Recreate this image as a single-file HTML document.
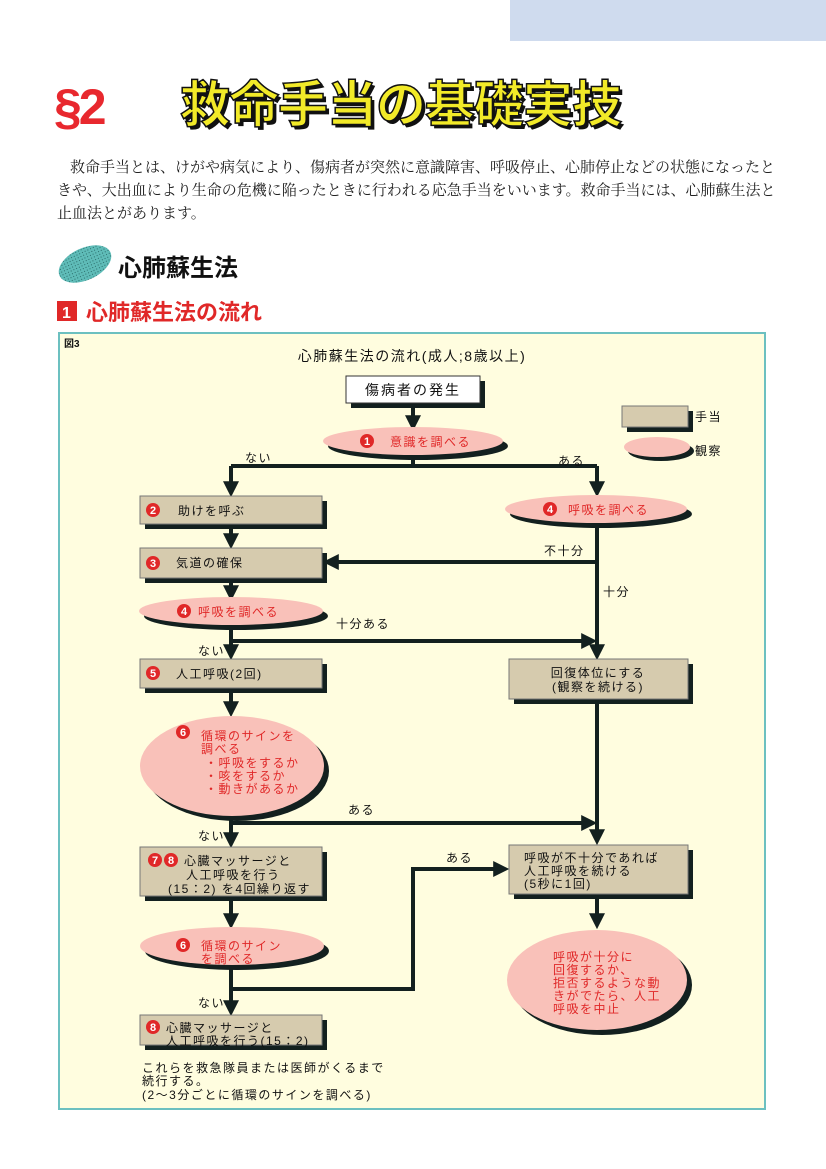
<!DOCTYPE html>
<html><head><meta charset="utf-8"><style>
html,body{margin:0;padding:0;background:#fff;}
svg{display:block;}
text{font-family:"Liberation Sans","Noto Sans CJK JP",sans-serif;}
.t{font-size:12px;fill:#111;letter-spacing:1.5px;}
.r{font-size:12px;fill:#e02828;letter-spacing:1.5px;}
.n{font-size:11px;fill:#fff;font-weight:bold;}
</style></head><body>
<svg width="826" height="1169" viewBox="0 0 826 1169" xmlns="http://www.w3.org/2000/svg">
<defs>
<marker id="a" markerWidth="4" markerHeight="4" refX="2.2" refY="2" orient="auto" markerUnits="strokeWidth"><path d="M0,0 L4,2 L0,4 z" fill="#13201f"/></marker>
<pattern id="dots" width="3" height="3" patternUnits="userSpaceOnUse"><rect width="3" height="3" fill="#5fbcb8"/><rect width="1" height="1" fill="#2a6c6a"/></pattern>
</defs>
<rect x="510" y="0" width="316" height="41" fill="#cfdbee"/>
<text x="54" y="124" font-size="50" font-weight="bold" fill="#e8282e" letter-spacing="-3">§2</text>
<text x="183" y="125" font-size="50" font-weight="bold" fill="#111" letter-spacing="-1">救命手当の基礎実技</text>
<text x="180" y="122" font-size="50" font-weight="bold" fill="#f2ea28" stroke="#111" stroke-width="1.5" letter-spacing="-1">救命手当の基礎実技</text>
<g font-size="15" fill="#222">
<text x="70" y="172" style="font-family:'Liberation Serif','Noto Serif CJK SC',serif">救命手当とは、けがや病気により、傷病者が突然に意識障害、呼吸停止、心肺停止などの状態になったと</text>
<text x="57" y="195" style="font-family:'Liberation Serif','Noto Serif CJK SC',serif">きや、大出血により生命の危機に陥ったときに行われる応急手当をいいます。救命手当には、心肺蘇生法と</text>
<text x="57" y="218" style="font-family:'Liberation Serif','Noto Serif CJK SC',serif">止血法とがあります。</text>
</g>
<ellipse cx="85" cy="264" rx="28" ry="16" transform="rotate(-25 85 264)" fill="url(#dots)"/>
<text x="118" y="276" font-size="24" font-weight="bold" fill="#111">心肺蘇生法</text>
<rect x="57" y="301" width="20" height="20" fill="#e02828"/>
<text x="62" y="318" font-size="16" font-weight="bold" fill="#fff">1</text>
<text x="86" y="320" font-size="22" fill="#e02828" font-weight="bold">心肺蘇生法の流れ</text>
<rect x="59" y="333" width="706" height="776" fill="#fffddf" stroke="#6cc0c0" stroke-width="2"/>
<text x="64" y="347" font-size="10" font-weight="bold" fill="#111">図3</text>
<text x="412" y="361" text-anchor="middle" font-size="14" fill="#111" letter-spacing="1.5">心肺蘇生法の流れ(成人;8歳以上)</text>

<g stroke="#13201f" stroke-width="4" fill="none">
<path d="M413 404 V424" marker-end="url(#a)"/>
<path d="M413 455 V466 M231 466 H597"/>
<path d="M231 466 V490" marker-end="url(#a)"/>
<path d="M597 466 V490" marker-end="url(#a)"/>
<path d="M231 525 V542" marker-end="url(#a)"/>
<path d="M597 522 V645"/>
<path d="M597 562 H330" marker-end="url(#a)"/>
<path d="M231 578 V594" marker-end="url(#a)"/>
<path d="M231 626 V653" marker-end="url(#a)"/>
<path d="M231 641 H590" marker-end="url(#a)"/>
<path d="M597 640 V653" marker-end="url(#a)"/>
<path d="M231 689 V710" marker-end="url(#a)"/>
<path d="M597 699 V838" marker-end="url(#a)"/>
<path d="M231 818 V841" marker-end="url(#a)"/>
<path d="M231 823 H590" marker-end="url(#a)"/>
<path d="M231 896 V922" marker-end="url(#a)"/>
<path d="M231 964 V1009" marker-end="url(#a)"/>
<path d="M231 989 H413 V869 H502" marker-end="url(#a)"/>
<path d="M597 894 V922" marker-end="url(#a)"/>
</g>

<g>
<rect x="351" y="381" width="134" height="27" fill="#13201f"/>
<rect x="346" y="376" width="134" height="27" fill="#fff" stroke="#333"/>
<text x="413" y="395" text-anchor="middle" font-size="14" fill="#111" letter-spacing="2">傷病者の発生</text>
</g>
<g fill="#13201f">
<rect x="627" y="411" width="66" height="21"/>
<rect x="145" y="501" width="182" height="28"/>
<rect x="145" y="553" width="182" height="30"/>
<rect x="145" y="664" width="182" height="29"/>
<rect x="145" y="852" width="182" height="49"/>
<rect x="145" y="1020" width="182" height="30"/>
<rect x="514" y="664" width="179" height="40"/>
<rect x="514" y="850" width="179" height="49"/>
<ellipse cx="661" cy="451" rx="33" ry="10"/>
<ellipse cx="418" cy="446" rx="90" ry="14"/>
<ellipse cx="601" cy="514" rx="91" ry="14"/>
<ellipse cx="236" cy="616" rx="92" ry="14"/>
<ellipse cx="237" cy="771" rx="92" ry="50"/>
<ellipse cx="237" cy="951" rx="92" ry="19"/>
<ellipse cx="602" cy="985" rx="90" ry="50"/>
</g>
<g fill="#d6cbae" stroke="#777" stroke-width="1">
<rect x="622" y="406" width="66" height="21"/>
<rect x="140" y="496" width="182" height="28"/>
<rect x="140" y="548" width="182" height="30"/>
<rect x="140" y="659" width="182" height="29"/>
<rect x="140" y="847" width="182" height="49"/>
<rect x="140" y="1015" width="182" height="30"/>
<rect x="509" y="659" width="179" height="40"/>
<rect x="509" y="845" width="179" height="49"/>
</g>
<g fill="#f9c1b9">
<ellipse cx="657" cy="447" rx="33" ry="10"/>
<ellipse cx="413" cy="441" rx="90" ry="14"/>
<ellipse cx="596" cy="509" rx="91" ry="14"/>
<ellipse cx="231" cy="611" rx="92" ry="14"/>
<ellipse cx="232" cy="766" rx="92" ry="50"/>
<ellipse cx="232" cy="946" rx="92" ry="19"/>
<ellipse cx="597" cy="980" rx="90" ry="50"/>
</g>
<text x="695" y="421" class="t">手当</text>
<text x="695" y="455" class="t">観察</text>

<g fill="#e02828">
<circle cx="367" cy="441" r="7"/><circle cx="550" cy="509" r="7"/>
<circle cx="153" cy="510" r="7"/><circle cx="153" cy="563" r="7"/>
<circle cx="184" cy="611" r="7"/><circle cx="153" cy="673" r="7"/>
<circle cx="183" cy="732" r="7"/><circle cx="155" cy="860" r="7"/><circle cx="171" cy="860" r="7"/>
<circle cx="183" cy="945" r="7"/><circle cx="153" cy="1027" r="7"/>
</g>
<g class="n" text-anchor="middle" font-size="11" fill="#fff" font-weight="bold">
<text x="367" y="445">1</text><text x="550" y="513">4</text>
<text x="153" y="514">2</text><text x="153" y="567">3</text>
<text x="184" y="615">4</text><text x="153" y="677">5</text>
<text x="183" y="736">6</text><text x="155" y="864">7</text><text x="171" y="864">8</text>
<text x="183" y="949">6</text><text x="153" y="1031">8</text>
</g>

<text x="390" y="446" class="r">意識を調べる</text>
<text x="568" y="514" class="r">呼吸を調べる</text>
<text x="178" y="515" class="t">助けを呼ぶ</text>
<text x="176" y="567" class="t">気道の確保</text>
<text x="198" y="616" class="r">呼吸を調べる</text>
<text x="176" y="678" class="t">人工呼吸(2回)</text>
<text x="201" y="740" class="r">循環のサインを</text>
<text x="201" y="753" class="r">調べる</text>
<text x="205" y="767" class="r">・呼吸をするか</text>
<text x="205" y="780" class="r">・咳をするか</text>
<text x="205" y="793" class="r">・動きがあるか</text>
<text x="184" y="865" class="t">心臓マッサージと</text>
<text x="186" y="879" class="t">人工呼吸を行う</text>
<text x="168" y="893" class="t">(15：2) を4回繰り返す</text>
<text x="201" y="950" class="r">循環のサイン</text>
<text x="201" y="963" class="r">を調べる</text>
<text x="166" y="1032" class="t">心臓マッサージと</text>
<text x="166" y="1045" class="t">人工呼吸を行う(15：2)</text>
<text x="598" y="677" text-anchor="middle" class="t">回復体位にする</text>
<text x="598" y="691" text-anchor="middle" class="t">(観察を続ける)</text>
<text x="524" y="862" class="t">呼吸が不十分であれば</text>
<text x="524" y="875" class="t">人工呼吸を続ける</text>
<text x="524" y="888" class="t">(5秒に1回)</text>
<text x="553" y="961" class="r">呼吸が十分に</text>
<text x="553" y="974" class="r">回復するか、</text>
<text x="553" y="987" class="r">拒否するような動</text>
<text x="553" y="1000" class="r">きがでたら、人工</text>
<text x="553" y="1013" class="r">呼吸を中止</text>

<text x="245" y="462" class="t">ない</text>
<text x="558" y="465" class="t">ある</text>
<text x="544" y="555" class="t">不十分</text>
<text x="603" y="596" class="t">十分</text>
<text x="336" y="628" class="t">十分ある</text>
<text x="198" y="655" class="t">ない</text>
<text x="348" y="814" class="t">ある</text>
<text x="198" y="840" class="t">ない</text>
<text x="446" y="862" class="t">ある</text>
<text x="198" y="1007" class="t">ない</text>
<text x="142" y="1072" class="t">これらを救急隊員または医師がくるまで</text>
<text x="142" y="1085" class="t">続行する。</text>
<text x="142" y="1099" class="t">(2〜3分ごとに循環のサインを調べる)</text>
</svg>
</body></html>
